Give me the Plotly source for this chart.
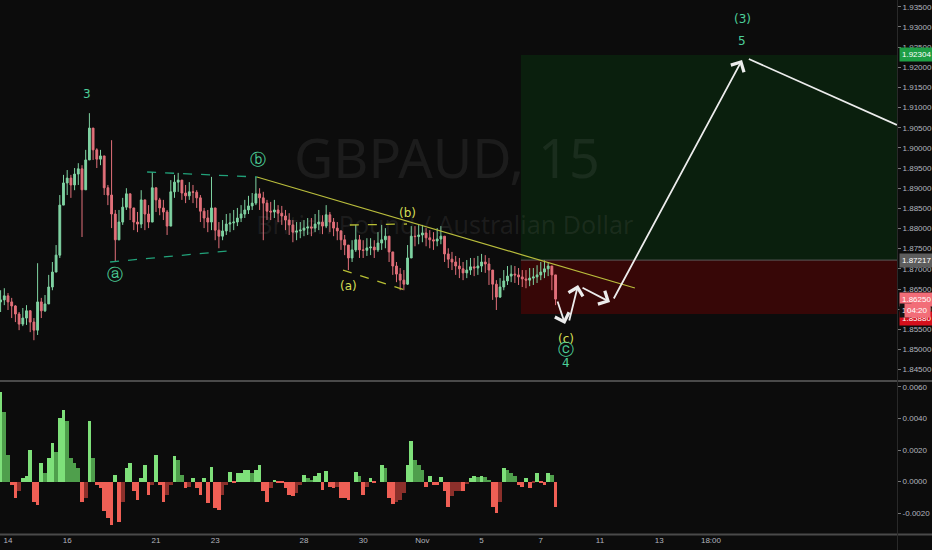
import plotly.graph_objects as go

# x axis is a trading-day index: 0 = Mon 14 Oct, weekends dropped (like TradingView)
bar_start = -0.25
bar_step = 0.125          # one bar = 3 hours

close = [
    1.8623, 1.8633, 1.8618, 1.8608, 1.8588, 1.8563, 1.8578, 1.8596, 1.8568, 1.8548,
    1.8618, 1.8596, 1.8613, 1.8655, 1.8692, 1.8734, 1.8858, 1.8913, 1.8925, 1.8908,
    1.8935, 1.8948, 1.8896, 1.8970, 1.9049, 1.8995, 1.8972, 1.8980, 1.8901, 1.8883,
    1.8836, 1.8772, 1.8816, 1.8853, 1.8886, 1.8851, 1.8816, 1.8811, 1.8871, 1.8836,
    1.8816, 1.8901, 1.8871, 1.8851, 1.8841, 1.8806, 1.8891, 1.8915, 1.8920, 1.8888,
    1.8881, 1.8891, 1.8890, 1.8876, 1.8843, 1.8826, 1.8816, 1.8851, 1.8796, 1.8781,
    1.8794, 1.8811, 1.8814, 1.8816, 1.8826, 1.8836, 1.8846, 1.8856, 1.8863, 1.8886,
    1.8876, 1.8863, 1.8843, 1.8841, 1.8846, 1.8838, 1.8831, 1.8821, 1.8809, 1.8791,
    1.8794, 1.8796, 1.8801, 1.8804, 1.8801, 1.8811, 1.8816, 1.8806, 1.8834, 1.8816,
    1.8801, 1.8794, 1.8772, 1.8759, 1.8727, 1.8747, 1.8772, 1.8747, 1.8746, 1.8752,
    1.8754, 1.8747, 1.8764, 1.8772, 1.8781, 1.8742, 1.8707, 1.8687, 1.8672, 1.8662,
    1.8727, 1.8781, 1.8780, 1.8784, 1.8789, 1.8777, 1.8772, 1.8769, 1.8774, 1.8781,
    1.8737, 1.8724, 1.8717, 1.8707, 1.8700, 1.8690, 1.8697, 1.8705, 1.8702, 1.8707,
    1.8717, 1.8712, 1.8697, 1.8662, 1.8630, 1.8655, 1.8670, 1.8682, 1.8687, 1.8685,
    1.8680, 1.8675, 1.8672, 1.8677, 1.8680, 1.8685, 1.8692, 1.8700, 1.8707, 1.8685,
    1.8625,
]
first_open = 1.8618

# highest / lowest trade inside each 3h bar
bar_hi = [
    1.8647, 1.8652, 1.8640, 1.8628, 1.8610, 1.8593, 1.8603, 1.8610, 1.8598, 1.8578,
    1.8714, 1.8628, 1.8635, 1.8685, 1.8717, 1.8759, 1.8883, 1.8933, 1.8945, 1.8933,
    1.8950, 1.8962, 1.8957, 1.8995, 1.9086, 1.9044, 1.8999, 1.8995, 1.8970, 1.8908,
    1.9019, 1.8846, 1.8846, 1.8876, 1.8900, 1.8883, 1.8846, 1.8841, 1.8895, 1.8871,
    1.8858, 1.8940, 1.8900, 1.8876, 1.8871, 1.8846, 1.8920, 1.8933, 1.8938, 1.8915,
    1.8908, 1.8915, 1.8908, 1.8895, 1.8883, 1.8851, 1.8846, 1.8928, 1.8833, 1.8816,
    1.8821, 1.8836, 1.8838, 1.8846, 1.8851, 1.8858, 1.8871, 1.8881, 1.8888, 1.8928,
    1.8900, 1.8891, 1.8871, 1.8866, 1.8871, 1.8858, 1.8856, 1.8846, 1.8838, 1.8821,
    1.8816, 1.8816, 1.8821, 1.8826, 1.8826, 1.8836, 1.8846, 1.8833, 1.8858, 1.8841,
    1.8826, 1.8816, 1.8796, 1.8784, 1.8759, 1.8771, 1.8809, 1.8784, 1.8771, 1.8776,
    1.8776, 1.8771, 1.8791, 1.8809, 1.8801, 1.8776, 1.8742, 1.8717, 1.8702, 1.8697,
    1.8759, 1.8806, 1.8806, 1.8809, 1.8809, 1.8801, 1.8796, 1.8791, 1.8801, 1.8806,
    1.8771, 1.8751, 1.8742, 1.8732, 1.8727, 1.8717, 1.8722, 1.8727, 1.8727, 1.8732,
    1.8737, 1.8734, 1.8727, 1.8697, 1.8672, 1.8677, 1.8697, 1.8707, 1.8709, 1.8707,
    1.8702, 1.8697, 1.8697, 1.8702, 1.8702, 1.8709, 1.8717, 1.8722, 1.8717, 1.8707,
    1.8660,
]
bar_lo = [
    1.8593, 1.8610, 1.8598, 1.8578, 1.8568, 1.8548, 1.8558, 1.8561, 1.8543, 1.8523,
    1.8536, 1.8578, 1.8593, 1.8623, 1.8647, 1.8697, 1.8727, 1.8871, 1.8883, 1.8876,
    1.8895, 1.8908, 1.8779, 1.8933, 1.8970, 1.8970, 1.8950, 1.8957, 1.8883, 1.8858,
    1.8801, 1.8717, 1.8771, 1.8809, 1.8846, 1.8821, 1.8796, 1.8791, 1.8801, 1.8796,
    1.8801, 1.8846, 1.8841, 1.8833, 1.8821, 1.8784, 1.8809, 1.8876, 1.8891, 1.8871,
    1.8863, 1.8871, 1.8863, 1.8851, 1.8816, 1.8801, 1.8791, 1.8796, 1.8771, 1.8751,
    1.8771, 1.8784, 1.8791, 1.8796, 1.8806, 1.8816, 1.8826, 1.8836, 1.8846, 1.8858,
    1.8846, 1.8771, 1.8821, 1.8821, 1.8826, 1.8816, 1.8809, 1.8796, 1.8784, 1.8766,
    1.8771, 1.8776, 1.8781, 1.8784, 1.8781, 1.8791, 1.8796, 1.8786, 1.8801, 1.8791,
    1.8781, 1.8771, 1.8747, 1.8734, 1.8697, 1.8717, 1.8742, 1.8727, 1.8727, 1.8732,
    1.8734, 1.8727, 1.8742, 1.8747, 1.8751, 1.8717, 1.8685, 1.8667, 1.8647, 1.8647,
    1.8660, 1.8742, 1.8756, 1.8761, 1.8766, 1.8756, 1.8751, 1.8747, 1.8756, 1.8761,
    1.8717, 1.8702, 1.8697, 1.8685, 1.8677, 1.8672, 1.8677, 1.8685, 1.8682, 1.8685,
    1.8692, 1.8690, 1.8660, 1.8623, 1.8598, 1.8628, 1.8647, 1.8660, 1.8667, 1.8665,
    1.8660, 1.8655, 1.8652, 1.8657, 1.8660, 1.8665, 1.8672, 1.8677, 1.8682, 1.8647,
    1.8610,
]

# oscillator pane, one value per bar
osc = [
    0.00571, 0.00444, 0.00169, -0.00021, -0.00106, -0.00063, 0.00021, 0.00032, 0.00201, -0.00127,
    -0.00148, 0.00116, 0.00053, 0.00148, 0.00243, 0.00190, 0.00402, 0.00455, 0.00381, 0.00148,
    0.00116, 0.00085, -0.00127, -0.00106, 0.00381, 0.00148, -0.00021, -0.00042, -0.00190, -0.00233,
    -0.00275, 0.00042, -0.00254, -0.00127, 0.00085, 0.00116, -0.00063, -0.00116, 0.00021, 0.00106,
    -0.00085, -0.00021, 0.00169, -0.00021, -0.00127, -0.00085, -0.00021, 0.00159, 0.00138, 0.00042,
    -0.00042, -0.00032, 0.00021, -0.00042, -0.00085, 0.00021, -0.00138, 0.00095, -0.00169, -0.00180,
    -0.00085, -0.00021, 0.00063, -0.00011, 0.00053, 0.00053, 0.00074, 0.00074, 0.00053, 0.00074,
    0.00106, -0.00063, -0.00127, -0.00042, 0.00011, -0.00011, -0.00011, -0.00042, -0.00085, -0.00095,
    -0.00074, -0.00021, 0.00042, 0.00021, 0.00011, 0.00032, 0.00053, -0.00053, 0.00068, -0.00032,
    -0.00042, -0.00032, -0.00106, -0.00106, -0.00116, 0.00000, 0.00063, 0.00032, -0.00085, -0.00032,
    0.00021, -0.00011, 0.00000, 0.00102, 0.00085, -0.00106, -0.00144, -0.00127, -0.00116, -0.00074,
    0.00106, 0.00254, 0.00138, 0.00102, 0.00074, -0.00032, 0.00032, -0.00021, -0.00021, 0.00030,
    -0.00063, -0.00159, -0.00095, -0.00063, -0.00059, -0.00063, -0.00017, 0.00021, 0.00036, 0.00030,
    0.00036, 0.00030, 0.00011, -0.00159, -0.00201, -0.00127, 0.00085, 0.00074, 0.00057, 0.00032,
    -0.00021, -0.00032, 0.00021, -0.00042, -0.00011, 0.00053, -0.00011, -0.00021, 0.00057, 0.00042,
    -0.00159,
]

day_ticks = [0, 2, 5, 7, 10, 12, 14, 16, 18, 20, 22, 23.75]
day_labels = ["14", "16", "21", "23", "28", "30", "Nov", "5", "7", "11", "13", "18:00"]

# position levels
entry_px = 1.87217
target_px = 1.92304
stop_px = 1.85880
last_px = 1.86250
box_start = 17.33

# elliott labels
wave_text = ["3", "ⓐ", "ⓑ", "(a)", "(b)", "(c)", "ⓒ", "4", "(3)", "5"]
wave_x = [2.67, 3.61, 8.45, 11.52, 13.51, 18.85, 18.85, 18.85, 24.80, 24.80]
wave_y = [1.91335, 1.86872, 1.89699, 1.86575, 1.88385, 1.85261, 1.84988, 1.84665, 1.93195, 1.92649]
wave_kind = ["t", "t", "t", "y", "y", "y", "t", "t", "t", "t"]

# drawn lines: x0, y0, x1, y1
tri_lines = [(4.70, 1.89401, 8.41, 1.89277), (3.45, 1.87170, 7.43, 1.87443)]
abc_lines = [(11.55, 1.88087, 13.48, 1.88112), (11.32, 1.86971, 13.41, 1.86475)]
trend_line = (8.41, 1.89277, 21.18, 1.86525)
# projected path arrows: tail x, tail y, head x, head y
path_arrows = [
    (18.55, 1.86228, 18.82, 1.85633),
    (18.95, 1.85682, 19.26, 1.86599),
    (19.36, 1.86550, 20.34, 1.86178),
    (20.44, 1.86228, 24.80, 1.92178),
]
path_tail = (25.03, 1.92203, 30.03, 1.90567)

BG = "#0c0c0c"
TEAL = "#4ccf9a"
YEL = "#d4df55"
AXC = "#b2b5be"
TICK_FONT = dict(family="Liberation Sans", size=8, color=AXC)

n = len(close)
xs = [bar_start + i * bar_step for i in range(n)]
opens = [first_open] + close[:-1]
highs = [max(h, o, c) for h, o, c in zip(bar_hi, opens, close)]
lows = [min(l, o, c) for l, o, c in zip(bar_lo, opens, close)]

osc_col = []
for i, v in enumerate(osc):
    prev = osc[i - 1] if i else 0
    if v >= 0:
        osc_col.append("#7ee07a" if v >= prev else "#4f9f4c")
    else:
        osc_col.append("#ef5f55" if v <= prev else "#8c302b")

fig = go.Figure()

# watermark, drawn first so the candles sit on top
fig.add_trace(go.Scatter(
    x=[14.83, 14.76], y=[1.89575, 1.88013], mode="text",
    text=["GBPAUD, 15", "British Pound / Australian Dollar"],
    textfont=dict(family="Noto Sans", size=[54, 25], color="rgba(140,140,140,0.13)"),
    hoverinfo="skip", showlegend=False,
))

fig.add_trace(go.Candlestick(
    x=xs, open=opens, high=highs, low=lows, close=close,
    increasing=dict(line=dict(color="#7fd3a2", width=1), fillcolor="#7fd3a2"),
    decreasing=dict(line=dict(color="#e2707a", width=1), fillcolor="#e2707a"),
    whiskerwidth=0, showlegend=False,
))

fig.add_trace(go.Bar(
    x=xs, y=osc, marker=dict(color=osc_col, line=dict(width=0)),
    width=bar_step, yaxis="y2", showlegend=False,
))

# long / short position boxes
fig.add_shape(type="rect", xref="x", yref="y", x0=box_start, x1=31, y0=entry_px, y1=target_px,
              fillcolor="#0a1f0d", line_width=0, layer="below")
fig.add_shape(type="rect", xref="x", yref="y", x0=box_start, x1=31, y0=stop_px, y1=entry_px,
              fillcolor="#370707", line_width=0, layer="below")
fig.add_shape(type="line", xref="x", yref="y", x0=box_start, x1=31, y0=entry_px, y1=entry_px,
              line=dict(color="#5a5a5a", width=1))

for x0, y0, x1, y1 in tri_lines:
    fig.add_shape(type="line", xref="x", yref="y", x0=x0, y0=y0, x1=x1, y1=y1,
                  line=dict(color="#22a27a", width=1.3, dash="dash"))
for x0, y0, x1, y1 in abc_lines:
    fig.add_shape(type="line", xref="x", yref="y", x0=x0, y0=y0, x1=x1, y1=y1,
                  line=dict(color="#b8bf34", width=1.3, dash="dash"))
x0, y0, x1, y1 = trend_line
fig.add_shape(type="line", xref="x", yref="y", x0=x0, y0=y0, x1=x1, y1=y1,
              line=dict(color="#b9bd3c", width=1.2))
x0, y0, x1, y1 = path_tail
fig.add_shape(type="line", xref="x", yref="y", x0=x0, y0=y0, x1=x1, y1=y1,
              line=dict(color="#ececec", width=1.8))

for tx, ty, hx, hy in path_arrows:
    fig.add_annotation(x=hx, y=hy, ax=tx, ay=ty, xref="x", yref="y", axref="x", ayref="y",
                       text="", showarrow=True, arrowhead=4, arrowsize=1.6,
                       arrowwidth=1.8, arrowcolor="#ececec", standoff=0)

for t, x, y, k in zip(wave_text, wave_x, wave_y, wave_kind):
    circled = t in ("ⓐ", "ⓑ", "ⓒ")
    fig.add_annotation(x=x, y=y, xref="x", yref="y", text=t, showarrow=False,
                       font=dict(family="DejaVu Sans", size=16 if circled else 12,
                                 color=TEAL if k == "t" else YEL))

# price tags on the right scale
tags = [(target_px, "1.92304", "#1e9e45"), (entry_px, "1.87217", "#5d5d5d"),
        (last_px, "1.86250", "#f26d78"), (1.8576, "1.85880", "#d5101c")]
for y, t, c in tags:
    fig.add_annotation(x=0.9646, y=y, xref="paper", yref="y", xanchor="left", text=t,
                       showarrow=False, bgcolor=c, borderpad=2,
                       font=dict(family="Liberation Sans", size=8, color="white"))
fig.add_annotation(x=0.9646, y=1.8597, xref="paper", yref="y", xanchor="left", text="1.",
                   showarrow=False, bgcolor="#111111", borderpad=2,
                   font=dict(family="Liberation Sans", size=8, color="white"))
fig.add_annotation(x=0.999, y=1.8597, xref="paper", yref="y", xanchor="right", text="04:20",
                   showarrow=False, bgcolor="#f26d78", borderpad=2,
                   font=dict(family="Liberation Sans", size=8, color="white"))

# pane separators
fig.add_shape(type="line", xref="paper", yref="paper", x0=0, x1=1, y0=0.3073, y1=0.3073,
              line=dict(color="#4a4a4a", width=2))
fig.add_shape(type="line", xref="paper", yref="paper", x0=0, x1=1, y0=0.0282, y1=0.0282,
              line=dict(color="#4a4a4a", width=2))
fig.add_shape(type="line", xref="paper", yref="paper", x0=0.9630, x1=0.9630, y0=0, y1=1,
              line=dict(color="#2a2a2a", width=1))

fig.update_layout(
    width=932, height=550,
    margin=dict(l=0, r=0, t=0, b=0, autoexpand=False),
    paper_bgcolor=BG, plot_bgcolor=BG,
    showlegend=False, bargap=0,
    font=dict(family="Liberation Sans", size=8, color=AXC),
    xaxis=dict(domain=[0, 0.9624], range=[-0.2703, 30.034], anchor="y2", automargin=False,
               tickvals=day_ticks, ticktext=day_labels, showgrid=False, zeroline=False,
               showline=False, ticks="", rangeslider=dict(visible=False),
               tickfont=TICK_FONT),
    yaxis=dict(domain=[0.30909, 1], range=[1.84244, 1.93666], side="right", anchor="x",
               automargin=False, tick0=1.845, dtick=0.005, tickformat=".5f",
               showgrid=False, zeroline=False,
               ticks="outside", ticklen=3, tickcolor="#777777", tickfont=TICK_FONT),
    yaxis2=dict(domain=[0.02909, 0.30545], range=[-0.003333, 0.006317], side="right", anchor="x",
                automargin=False, tickvals=[-0.002, 0, 0.002, 0.004, 0.006],
                ticktext=["-0.0020", "0.0000", "0.0020", "0.0040", "0.0060"],
                showgrid=False, zeroline=False, ticks="outside", ticklen=3, tickcolor="#777777",
                tickfont=TICK_FONT),
)

# the page body keeps the browser's 8px default margin otherwise
fig.write_html("out.html", config={"displayModeBar": False},
               post_script="document.body.style.margin='0px';")
